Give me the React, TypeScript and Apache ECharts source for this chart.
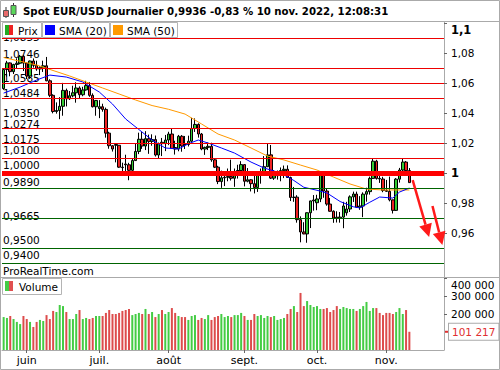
import React, { useEffect, useRef } from "react";
import * as echarts from "echarts";

// ---------- data ----------
const tradingDays: [string, number[]][] = [
  ["05", [23, 24, 25, 26, 27, 30, 31]],
  ["06", [1, 2, 3, 6, 7, 8, 9, 10, 13, 14, 15, 16, 17, 20, 21, 22, 23, 24, 27, 28, 29, 30]],
  ["07", [1, 4, 5, 6, 7, 8, 11, 12, 13, 14, 15, 18, 19, 20, 21, 22, 25, 26, 27, 28, 29]],
  ["08", [1, 2, 3, 4, 5, 8, 9, 10, 11, 12, 15, 16, 17, 18, 19, 22, 23, 24, 25, 26, 29, 30, 31]],
  ["09", [1, 2, 5, 6, 7, 8, 9, 12, 13, 14, 15, 16, 19, 20, 21, 22, 23, 26, 27, 28, 29, 30]],
  ["10", [3, 4, 5, 6, 7, 10, 11, 12, 13, 14, 17, 18, 19, 20, 21, 24, 25, 26, 27, 28, 31]],
  ["11", [1, 2, 3, 4, 7, 8, 9, 10]],
];
const monthNames: Record<string, string> = {
  "06": "juin", "07": "juil.", "08": "août", "09": "sept.", "10": "oct.", "11": "nov.",
};
const emptySlots = 10;

// [open, high, low, close]
const ohlc: number[][] = [
  [1.0563, 1.0697, 1.0555, 1.069], [1.069, 1.0748, 1.0642, 1.0734], [1.0734, 1.0737, 1.0645, 1.0676],
  [1.0676, 1.0728, 1.066, 1.0724], [1.0724, 1.0765, 1.0698, 1.0732], [1.0732, 1.0787, 1.0725, 1.0778],
  [1.0778, 1.0786, 1.068, 1.0733],
  [1.0733, 1.0737, 1.0627, 1.0647], [1.0647, 1.075, 1.0628, 1.0747], [1.0747, 1.0764, 1.0703, 1.0718],
  [1.0718, 1.0749, 1.0682, 1.0694], [1.0694, 1.0712, 1.0653, 1.0702], [1.0702, 1.0749, 1.0674, 1.0715],
  [1.0715, 1.0774, 1.0612, 1.0615], [1.0615, 1.0625, 1.0506, 1.0518], [1.0518, 1.0525, 1.0398, 1.041],
  [1.041, 1.0471, 1.0396, 1.0417], [1.0417, 1.0506, 1.0359, 1.0445], [1.0445, 1.0601, 1.0382, 1.0551],
  [1.0551, 1.0563, 1.0444, 1.0495], [1.0495, 1.0547, 1.0487, 1.0515], [1.0515, 1.0582, 1.0505, 1.0535],
  [1.0535, 1.0605, 1.0469, 1.0567], [1.0567, 1.0578, 1.0495, 1.0522], [1.0522, 1.0575, 1.0512, 1.0554],
  [1.0554, 1.0615, 1.0549, 1.0583], [1.0583, 1.0606, 1.0508, 1.0518], [1.0518, 1.0531, 1.0437, 1.0442],
  [1.0442, 1.0487, 1.0382, 1.0484],
  [1.043, 1.0486, 1.0366, 1.0442], [1.0442, 1.0462, 1.0409, 1.0424], [1.0424, 1.0436, 1.0236, 1.0266],
  [1.0266, 1.0275, 1.0162, 1.0182], [1.0182, 1.0186, 1.0143, 1.016], [1.019, 1.02, 1.0071, 1.0185],
  [1.0185, 1.0186, 1.0034, 1.0039], [1.0039, 1.0069, 0.9999, 1.0036], [1.006, 1.0122, 0.9998, 1.0055],
  [1.0055, 1.0068, 0.9952, 1.0018], [1.0018, 1.0099, 1.0007, 1.0083], [1.0083, 1.02, 1.008, 1.0144],
  [1.0144, 1.0269, 1.0126, 1.0225], [1.0225, 1.0273, 1.0161, 1.018], [1.018, 1.0279, 1.0153, 1.0229],
  [1.0229, 1.0256, 1.0128, 1.0211], [1.0211, 1.0258, 1.0182, 1.0223], [1.0223, 1.025, 1.011, 1.012],
  [1.012, 1.0203, 1.0097, 1.0197], [1.0205, 1.0234, 1.0113, 1.0196], [1.0196, 1.0254, 1.0146, 1.022],
  [1.022, 1.0275, 1.0186, 1.026], [1.026, 1.0294, 1.0161, 1.0164], [1.017, 1.0215, 1.0123, 1.016],
  [1.016, 1.0254, 1.0145, 1.0245], [1.0245, 1.0253, 1.0142, 1.018], [1.0196, 1.0247, 1.016, 1.019],
  [1.019, 1.0249, 1.0177, 1.0212], [1.0212, 1.0368, 1.0203, 1.0297], [1.0297, 1.0364, 1.0274, 1.0324],
  [1.0324, 1.0331, 1.0236, 1.026], [1.026, 1.0267, 1.0152, 1.016], [1.016, 1.0176, 1.0121, 1.0171],
  [1.0171, 1.0203, 1.0153, 1.0178], [1.0178, 1.0202, 1.0075, 1.0088], [1.0088, 1.0096, 1.0033, 1.0039],
  [1.0039, 1.0048, 0.9926, 0.9943], [0.9943, 1.0016, 0.9901, 0.9968], [0.9968, 0.9999, 0.9913, 0.9972],
  [0.9972, 1.003, 0.9945, 0.9976], [0.9976, 1.0089, 0.995, 0.9965], [0.9965, 1.003, 0.9908, 1.0],
  [1.0, 1.0055, 0.9963, 1.0017], [1.0017, 1.0079, 0.9993, 1.0056],
  [1.0056, 1.0057, 0.9911, 0.9945], [0.9945, 1.0033, 0.9938, 0.9955], [0.9955, 0.996, 0.9877, 0.9929],
  [0.9929, 0.9988, 0.9864, 0.9903], [0.9903, 1.0012, 0.9874, 1.0002], [1.0002, 1.003, 0.9929, 1.001],
  [1.001, 1.0113, 0.999, 1.0042], [1.0042, 1.0198, 1.004, 1.0121], [1.0121, 1.0187, 0.996, 0.9966],
  [0.9966, 1.0019, 0.9954, 0.9982], [0.9982, 1.0017, 0.9956, 0.9999], [0.9999, 1.0037, 0.9945, 1.0016],
  [1.0016, 1.005, 0.9966, 1.0025], [1.0025, 1.0051, 0.9967, 0.997], [0.997, 0.9976, 0.9813, 0.9837],
  [0.9837, 0.9907, 0.9808, 0.9839], [0.9839, 0.9852, 0.9669, 0.9689], [0.9689, 0.9711, 0.9538, 0.9607],
  [0.9607, 0.9672, 0.9592, 0.9594], [0.9594, 0.9737, 0.9535, 0.9735], [0.9735, 0.9816, 0.9633, 0.9814],
  [0.9814, 0.9853, 0.9749, 0.982],
  [0.9802, 0.9855, 0.9752, 0.9827], [0.9827, 0.9999, 0.9806, 0.9987], [0.9987, 0.9999, 0.9835, 0.988],
  [0.988, 0.9899, 0.9782, 0.9793], [0.9793, 0.9834, 0.9742, 0.9745], [0.9745, 0.9751, 0.9668, 0.97],
  [0.9705, 0.9745, 0.967, 0.9698], [0.9698, 0.974, 0.9669, 0.9706], [0.9706, 0.9808, 0.9632, 0.978],
  [0.9735, 0.9808, 0.9716, 0.976], [0.976, 0.9851, 0.974, 0.9841], [0.9841, 0.9876, 0.9807, 0.986],
  [0.986, 0.9876, 0.9768, 0.9772], [0.9772, 0.9846, 0.9755, 0.978], [0.978, 0.9871, 0.9706, 0.9859],
  [0.9859, 0.9902, 0.9809, 0.9876], [0.9876, 0.9976, 0.9856, 0.9964], [0.9964, 1.0094, 0.9962, 1.0079],
  [1.0079, 1.0088, 0.9956, 0.9964], [0.9964, 0.9993, 0.9934, 0.996], [0.996, 0.9975, 0.9872, 0.9883],
  [0.9883, 0.9954, 0.9874, 0.9878], [0.9878, 0.9976, 0.9811, 0.9821], [0.9821, 0.9822, 0.973, 0.9751],
  [0.9751, 0.9966, 0.9747, 0.9959], [0.9959, 1.0034, 0.9936, 1.002], [1.002, 1.0095, 0.9987, 1.0073],
  [1.0073, 1.008, 0.9996, 1.0016], [1.0016, 1.0033, 0.9935, 0.9936],
];

const volumes: number[] = [
  183000, 178000, 189000, 172000, 156000, 144000, 189000,
  172000, 156000, 128000, 156000, 167000, 161000, 194000, 172000, 217000, 211000, 250000, 244000, 211000,
  172000, 172000, 200000, 222000, 172000, 178000, 172000, 178000, 189000,
  189000, 189000, 206000, 222000, 200000, 200000, 206000, 217000, 222000, 228000, 194000, 200000, 206000,
  200000, 228000, 200000, 211000, 183000, 200000, 222000, 200000,
  211000, 233000, 206000, 189000, 183000, 183000, 167000, 189000, 194000, 167000, 178000, 172000, 194000,
  167000, 183000, 189000, 200000, 183000, 189000, 183000, 194000, 194000, 206000,
  189000, 167000, 167000, 200000, 189000, 194000, 178000, 189000, 183000, 189000, 167000, 172000, 178000,
  200000, 228000, 244000, 211000, 317000, 244000, 272000, 250000, 239000,
  244000, 228000, 228000, 233000, 211000, 222000, 244000, 228000, 239000, 233000, 228000, 228000, 217000,
  228000, 244000, 267000, 217000, 233000, 233000, 206000, 194000,
  206000, 206000, 200000, 211000, 233000, 200000, 222000, 101217,
];

// [day index, value]
const sma20: number[][] = [
  [0, 1.0533], [5, 1.0573], [10, 1.062], [14, 1.0653], [19, 1.064], [24, 1.0607], [29, 1.054],
  [33, 1.046], [37, 1.036], [41, 1.029], [45, 1.022], [49, 1.0167], [53, 1.016], [56, 1.0195],
  [59, 1.022], [62, 1.02], [66, 1.0167], [70, 1.0133], [75, 1.0073], [79, 1.0033], [84, 1.0],
  [88, 0.995], [91, 0.9905], [95, 0.9885], [98, 0.9867], [102, 0.981], [106, 0.9775], [108, 0.9767],
  [111, 0.9805], [114, 0.984], [118, 0.9833], [120, 0.9873], [123, 0.99],
];
const sma50: number[][] = [
  [0, 1.077], [10, 1.072], [20, 1.0647], [30, 1.0567], [35, 1.0527], [40, 1.0487], [45, 1.045],
  [50, 1.0425], [55, 1.0393], [60, 1.0327], [65, 1.026], [70, 1.022], [75, 1.0167], [80, 1.0113],
  [85, 1.0087], [90, 1.0053], [95, 1.002], [100, 0.9973], [105, 0.9927], [110, 0.9893], [115, 0.9887],
  [123, 0.9887],
];

const resistanceLevels = [1.0855, 1.0746, 1.0585, 1.0484, 1.035, 1.0274, 1.0175, 1.01];
const pivotLevel = 1.0;
const supportLevels = [0.989, 0.9665, 0.95, 0.94];
const priceTicks = [0.96, 0.98, 1.0, 1.02, 1.04, 1.06, 1.08, 1.1];
const volumeTicks = [200000, 300000, 400000];
// arrows: [[startSlot, startPrice], [endSlot, endPrice]]
const arrows: number[][][] = [
  [[124, 0.9953], [129, 0.9573]],
  [[130, 0.978], [133, 0.952]],
];

const titleText = "Spot EUR/USD Journalier 0,9936 -0,83 % 10 nov. 2022, 12:08:31";
const brandText = "ProRealTime.com";

// ---------- helpers ----------
const dates: string[] = [];
tradingDays.forEach(([m, days]) => days.forEach((d) => dates.push(`2022-${m}-${String(d).padStart(2, "0")}`)));
const categories = [...dates];
for (let k = 1; k <= emptySlots; k++) categories.push(`slot-${k}`);
const isMonthStart = (i: number) =>
  i > 0 && i < dates.length && dates[i].slice(5, 7) !== dates[i - 1].slice(5, 7);

const fmtLevel = (v: number) => v.toFixed(4).replace(".", ",");
const fmtVol = (v: number) => String(Math.round(v)).replace(/\B(?=(\d{3})+(?!\d))/g, " ");
const near = (a: number, b: number) => Math.abs(a - b) < 1e-9;

const FONT = "DejaVu Sans";
const UP = "#33cc33";
const DOWN = "#ee2222";
const VUP = "#44cc44";
const VDOWN = "#dd4c4c";
const GRID_LINE = "#aaaaaa";
const ARROW = "#ff1a1a";

function legendBox(x: number, y: number, w: number, h: number, label: string, colors: string[], textX: number) {
  const Z = 100;
  const els: any[] = [
    { type: "rect", z: Z, shape: { x: x + 0.5, y: y + 0.5, width: w, height: h }, style: { fill: "#fff", stroke: "#b4b4b4", lineWidth: 1 } },
  ];
  const iw = colors.length === 2 ? 4 : 10;
  colors.forEach((c, k) => {
    els.push({ type: "rect", z: Z + 1, shape: { x: x + 3 + k * iw, y: y + 3, width: iw, height: 10 }, style: { fill: c } });
  });
  els.push({
    type: "text", z: Z + 1, x: textX, y: y + h / 2 + 1,
    style: { text: label, fill: "#000", font: `10.5px '${FONT}'`, verticalAlign: "middle" },
  });
  return els;
}

export default function App() {
  const ref = useRef<HTMLDivElement>(null);

  useEffect(() => {
    document.body.style.margin = "0";
    if (!ref.current) return;
    const chart = echarts.init(ref.current, undefined, { renderer: "svg" });

    const levelData = [
      ...resistanceLevels.map((v) => ({ yAxis: v, lineStyle: { color: "#ee0000", width: 1, type: "solid" } })),
      { yAxis: pivotLevel, lineStyle: { color: "#ff0000", width: 5, type: "solid" } },
      ...supportLevels.map((v) => ({ yAxis: v, lineStyle: { color: "#006400", width: 1, type: "solid" } })),
    ];

    const option: any = {
      animation: false,
      textStyle: { fontFamily: FONT },
      grid: [
        { left: 2, right: 56, top: 22, height: 256 },
        { left: 2, right: 56, top: 278, height: 72 },
      ],
      xAxis: [
        {
          type: "category", gridIndex: 0, data: categories,
          axisLine: { show: false }, axisTick: { show: false }, axisLabel: { show: false }, splitLine: { show: false },
        },
        {
          type: "category", gridIndex: 1, data: categories,
          axisLine: { show: true, lineStyle: { color: GRID_LINE } },
          axisTick: { show: true, alignWithLabel: true, length: 3, interval: (i: number) => isMonthStart(i), lineStyle: { color: "#666" } },
          axisLabel: {
            show: true, interval: (i: number) => isMonthStart(i), margin: 5,
            formatter: (v: string) => monthNames[v.slice(5, 7)] || "",
            color: "#000", fontSize: 11, fontFamily: FONT,
          },
          splitLine: { show: false },
        },
      ],
      yAxis: [
        {
          type: "value", gridIndex: 0, position: "right", min: 0.93, max: 1.1007, scale: true,
          axisLine: { show: true, lineStyle: { color: GRID_LINE } },
          axisTick: { show: true, length: 3, customValues: priceTicks, lineStyle: { color: "#666" } },
          splitLine: { show: false },
          axisLabel: {
            customValues: priceTicks, margin: 7, color: "#000", fontSize: 10.5, fontFamily: FONT,
            formatter: (v: number) => {
              if (near(v, 1.1)) return "{top|1,1}";
              if (near(v, 1)) return "{b|1}";
              return String(+v.toFixed(2)).replace(".", ",");
            },
            rich: {
              top: { fontWeight: "bold", fontSize: 11.5, fontFamily: FONT, color: "#000", padding: [14, 0, 0, 0] },
              b: { fontWeight: "bold", fontSize: 11.5, fontFamily: FONT, color: "#000" },
            },
          },
        },
        {
          type: "value", gridIndex: 1, position: "right", min: 0, max: 400000,
          axisLine: { show: true, lineStyle: { color: GRID_LINE } },
          axisTick: { show: true, length: 3, customValues: volumeTicks, lineStyle: { color: "#666" } },
          splitLine: { show: false },
          axisLabel: {
            customValues: volumeTicks, margin: 7, color: "#000", fontSize: 10.5, fontFamily: FONT,
            formatter: (v: number) => (near(v, 400000) ? `{top|${fmtVol(v)}}` : fmtVol(v)),
            rich: { top: { fontSize: 10.5, fontFamily: FONT, color: "#000", padding: [14, 0, 0, 0] } },
          },
        },
      ],
      series: [
        {
          name: "levels", type: "line", xAxisIndex: 0, yAxisIndex: 0, data: [], z: 1, silent: true,
          markLine: { silent: true, symbol: "none", animation: false, label: { show: false }, data: levelData },
        },
        {
          name: "Prix", type: "candlestick", xAxisIndex: 0, yAxisIndex: 0, z: 2, barWidth: 3,
          data: ohlc.map(([o, h, l, c]) => [o, c, l, h]),
          itemStyle: { color: UP, color0: DOWN, borderColor: "#000", borderColor0: "#000", borderWidth: 1 },
        },
        {
          name: "SMA (50)", type: "line", xAxisIndex: 0, yAxisIndex: 0, z: 3, showSymbol: false,
          data: sma50.map(([i, v]) => [categories[i], v]),
          lineStyle: { color: "#ff9900", width: 1 },
        },
        {
          name: "SMA (20)", type: "line", xAxisIndex: 0, yAxisIndex: 0, z: 3, showSymbol: false,
          data: sma20.map(([i, v]) => [categories[i], v]),
          lineStyle: { color: "#0000ff", width: 1 },
        },
        {
          name: "Volume", type: "bar", xAxisIndex: 1, yAxisIndex: 1, barWidth: 2,
          data: volumes.map((v, i) => ({ value: v, itemStyle: { color: ohlc[i][3] >= ohlc[i][0] ? VUP : VDOWN } })),
          markLine: {
            silent: true, symbol: "none", animation: false,
            lineStyle: { color: "rgba(0,0,0,0)", width: 0, type: "solid" },
            label: {
              show: true, position: "end", distance: 1, opacity: 1,
              formatter: () => `{d|}{v|${fmtVol(volumes[volumes.length - 1])}}`,
              rich: {
                d: { width: 4, height: 2, backgroundColor: "#e03030" },
                v: {
                  color: "#e03030", fontSize: 10.5, fontFamily: FONT, backgroundColor: "#fff",
                  borderColor: "#aaaaaa", borderWidth: 1, padding: [3, 3, 2, 3],
                },
              },
            },
            data: [{ yAxis: volumes[volumes.length - 1] }],
          },
        },
      ],
    };

    chart.setOption(option);

    // level labels and arrows positioned through the chart's own scales
    const toPx = (slot: number, price: number) => chart.convertToPixel({ gridIndex: 0 }, [slot, price]) as number[];
    const allLevels = [...resistanceLevels, pivotLevel, ...supportLevels];
    const levelLabels = allLevels.map((v) => {
      const py = chart.convertToPixel({ yAxisIndex: 0 }, v) as number;
      return {
        type: "text", z: 1.5, x: 3, y: py - 7.6,
        style: { text: fmtLevel(v), fill: "#000", font: `10.5px '${FONT}'`, verticalAlign: "middle" },
      };
    });
    const arrowEls: any[] = [];
    arrows.forEach(([s, e]) => {
      const [x1, y1] = toPx(s[0], s[1]);
      const [x2, y2] = toPx(e[0], e[1]);
      const len = Math.hypot(x2 - x1, y2 - y1);
      const ux = (x2 - x1) / len, uy = (y2 - y1) / len;
      const head = 13, half = 6.5;
      const bx = x2 - ux * head, by = y2 - uy * head;
      arrowEls.push({
        type: "line", z: 50, shape: { x1, y1, x2: bx, y2: by },
        style: { stroke: ARROW, lineWidth: 2.5 },
      });
      arrowEls.push({
        type: "polygon", z: 50,
        shape: { points: [[x2, y2], [bx - uy * half, by + ux * half], [bx + uy * half, by - ux * half]] },
        style: { fill: ARROW },
      });
    });

    chart.setOption({
      graphic: [
        { type: "rect", z: 0, shape: { x: 0.5, y: 0.5, width: 499, height: 369 }, style: { fill: "none", stroke: GRID_LINE, lineWidth: 1 } },
        { type: "line", z: 0, shape: { x1: 0, y1: 21.5, x2: 500, y2: 21.5 }, style: { stroke: GRID_LINE, lineWidth: 1 } },
        { type: "line", z: 0, shape: { x1: 0, y1: 277.5, x2: 500, y2: 277.5 }, style: { stroke: GRID_LINE, lineWidth: 1 } },
        ...levelLabels,
        ...arrowEls,
        { type: "line", z: 100, shape: { x1: 6, y1: 7, x2: 6, y2: 18 }, style: { stroke: "#333", lineWidth: 1 } },
        { type: "rect", z: 101, shape: { x: 3.5, y: 10.5, width: 5, height: 6 }, style: { fill: "#e86a6a", stroke: "#555", lineWidth: 1 } },
        { type: "line", z: 100, shape: { x1: 13.5, y1: 3, x2: 13.5, y2: 17 }, style: { stroke: "#333", lineWidth: 1 } },
        { type: "rect", z: 101, shape: { x: 11, y: 5.5, width: 5, height: 9 }, style: { fill: "#5ad85a", stroke: "#555", lineWidth: 1 } },
        {
          type: "text", z: 100, x: 23, y: 11.5,
          style: { text: titleText, fill: "#000", font: `bold 10.2px '${FONT}'`, verticalAlign: "middle" },
        },
        ...legendBox(2, 22, 39, 15, "Prix", ["#22aa22", "#ee2222"], 18),
        ...legendBox(42, 22, 67, 15, "SMA (20)", ["#0000ff"], 59),
        ...legendBox(110, 22, 67, 15, "SMA (50)", ["#ff9900"], 127),
        ...legendBox(2, 278, 59, 16, "Volume", ["#44cc44", "#e05050"], 19),
        {
          type: "text", z: 100, x: 3, y: 271,
          style: { text: brandText, fill: "#000", font: `10.5px '${FONT}'`, verticalAlign: "middle" },
        },
      ],
    });

    return () => chart.dispose();
  }, []);

  return <div ref={ref} style={{ width: 500, height: 370 }} />;
}
